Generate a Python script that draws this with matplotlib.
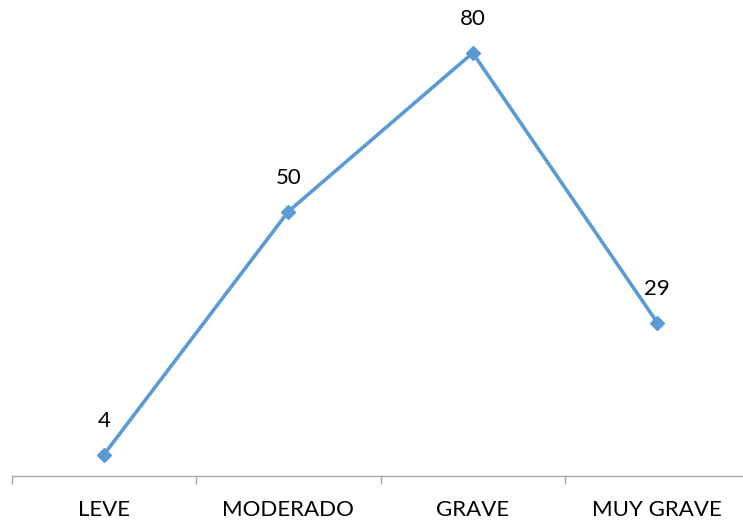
import matplotlib.pyplot as plt
from matplotlib.ticker import FixedLocator, NullFormatter

categorias = ["LEVE", "MODERADO", "GRAVE", "MUY GRAVE"]
valores = [4, 50, 80, 29]

plt.rcParams['font.family'] = ['Lato', 'DejaVu Sans']

fig = plt.figure(figsize=(7.43, 5.24), dpi=100)
ax = fig.add_axes([11.5 / 743, 48 / 524, 738 / 743, 476 / 524])

x = list(range(len(categorias)))
azul = "#5B9BD5"
ax.plot(x, valores, color=azul, linewidth=2.6, marker="D", markersize=7.5,
        markerfacecolor=azul, markeredgecolor=azul, clip_on=False)

# Etiquetas de datos encima de cada punto
for xi, v in zip(x, valores):
    ax.annotate(str(v), (xi, v), xytext=(0, 24.5), textcoords="offset points",
                ha="center", va="center", fontsize=16, color="black")

ax.set_xlim(-0.5, len(categorias) - 0.5)
ax.set_ylim(0, 90)

# Marcas entre categorias, etiquetas centradas
ax.xaxis.set_major_locator(FixedLocator([i - 0.5 for i in range(len(categorias) + 1)]))
ax.xaxis.set_major_formatter(NullFormatter())
ax.set_xticks(x, minor=True)
ax.set_xticklabels(categorias, minor=True, fontsize=16)
ax.tick_params(axis="x", which="major", length=6, color="#A6A6A6", width=1)
ax.tick_params(axis="x", which="minor", length=0, pad=17)

ax.set_yticks([])
for lado in ["top", "right", "left"]:
    ax.spines[lado].set_visible(False)
ax.spines["bottom"].set_color("#A6A6A6")
ax.spines["bottom"].set_linewidth(1)

fig.savefig("out.png", dpi=100)
